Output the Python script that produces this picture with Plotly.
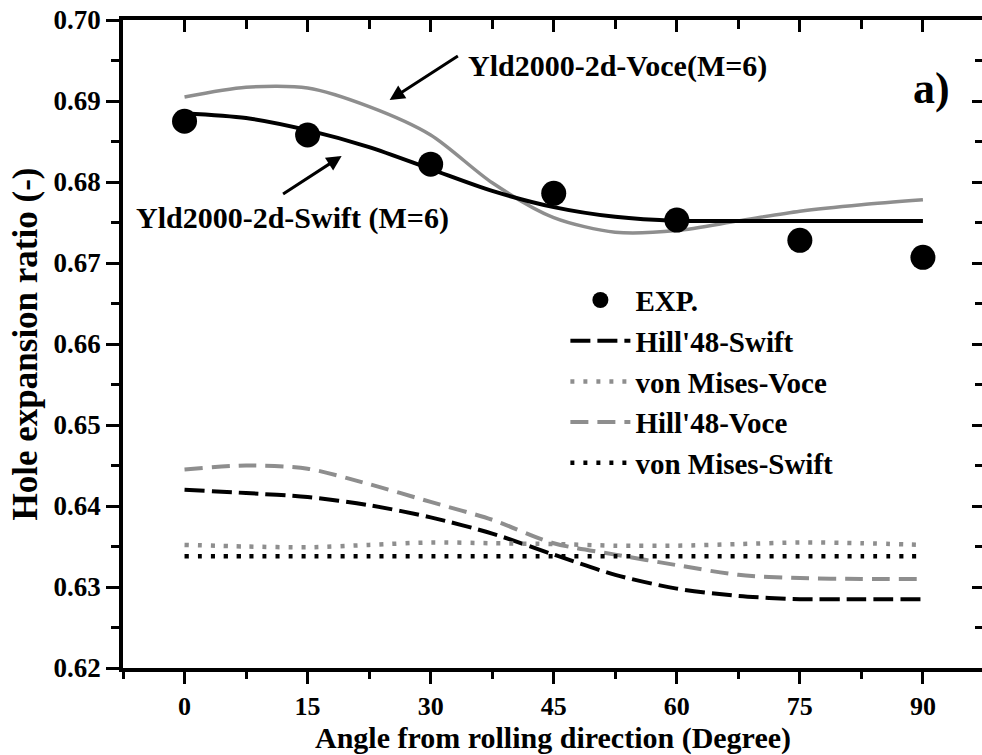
import plotly.graph_objects as go

# ---------------- data ----------------
angles_exp = [0, 15, 30, 45, 60, 75, 90]
exp_vals = [0.6875, 0.6858, 0.6822, 0.6786, 0.6753, 0.6728, 0.6707]

angles_model = [0, 7.5, 15, 22.5, 30, 37.5, 45, 52.5, 60, 67.5, 75, 82.5, 90]
yld_swift = [0.6885, 0.6879, 0.6864, 0.6843, 0.6816, 0.6789, 0.6769, 0.6757, 0.6752, 0.6752, 0.6752, 0.6752, 0.6752]
yld_voce = [0.6905, 0.6917, 0.6916, 0.6893, 0.6858, 0.6799, 0.6756, 0.6738, 0.6740, 0.6752, 0.6764, 0.6772, 0.6778]
hill_swift = [0.6420, 0.6416, 0.6411, 0.6401, 0.6386, 0.6366, 0.6340, 0.6315, 0.6298, 0.6289, 0.6285, 0.6285, 0.6285]
hill_voce = [0.6445, 0.6450, 0.6446, 0.6427, 0.6405, 0.6383, 0.6354, 0.6340, 0.6327, 0.6315, 0.6311, 0.6310, 0.6310]
vm_voce = [0.6352, 0.6350, 0.6349, 0.6352, 0.6355, 0.6354, 0.6353, 0.6351, 0.6351, 0.6353, 0.6355, 0.6354, 0.6352]
vm_swift = [0.6338, 0.6338, 0.6338, 0.6338, 0.6338, 0.6338, 0.6338, 0.6338, 0.6338, 0.6338, 0.6338, 0.6338, 0.6338]

x_ticks = [0, 15, 30, 45, 60, 75, 90]
y_ticks = [0.62, 0.63, 0.64, 0.65, 0.66, 0.67, 0.68, 0.69, 0.70]

x_title = "Angle from rolling direction (Degree)"
y_title = "Hole expansion ratio (-)"

GRAY = "#8e8e8e"
FONT = "Liberation Serif"

fig = go.Figure()

def line(y, name, color, dash, width, rank, legend=True):
    fig.add_trace(go.Scatter(
        x=angles_model, y=y, name=name, mode="lines",
        line=dict(color=color, dash=dash, width=width, shape="spline", smoothing=0.8),
        showlegend=legend, legendrank=rank, hoverinfo="skip"))

line(yld_voce, "Yld2000-2d-Voce(M=6)", GRAY, "solid", 3.5, 10, legend=False)
line(yld_swift, "Yld2000-2d-Swift (M=6)", "black", "solid", 4, 11, legend=False)
line(hill_swift, "Hill'48-Swift", "black", "20px,7px", 4, 2)
line(vm_voce, "von Mises-Voce", GRAY, "4px,9px", 4.5, 3)
line(hill_voce, "Hill'48-Voce", GRAY, "18px,9px", 4, 4)
line(vm_swift, "von Mises-Swift", "black", "4px,9px", 4.5, 5)

fig.add_trace(go.Scatter(
    x=angles_exp, y=exp_vals, name="EXP.", mode="markers",
    marker=dict(color="black", size=25, symbol="circle"),
    legendrank=1, hoverinfo="skip"))

# invisible helper trace for the mirrored (top/right) tick axes
fig.add_trace(go.Scatter(
    x=angles_exp, y=exp_vals, xaxis="x2", yaxis="y2", mode="markers",
    marker=dict(opacity=0), showlegend=False, hoverinfo="skip"))

XR = [-7.5, 97.2]
YR = [0.62, 0.70]

fig.update_layout(
    width=982, height=755,
    margin=dict(l=123, r=0, t=20, b=87),
    paper_bgcolor="white", plot_bgcolor="white",
    font=dict(family=FONT, size=27, color="black", weight="bold"),
    showlegend=True,
    legend=dict(x=0.515, y=0.607, xanchor="left", yanchor="top",
                bgcolor="rgba(0,0,0,0)", font=dict(size=29, family=FONT, weight="bold"),
                itemwidth=60, tracegroupgap=0),
    xaxis=dict(range=XR, tickvals=x_ticks, ticks="outside", ticklen=12, tickwidth=3,
               tickcolor="black", showline=True, linewidth=3.5, linecolor="black",
               showgrid=False, zeroline=False,
               minor=dict(dtick=7.5, tick0=0, ticks="outside", ticklen=7, tickwidth=3,
                          tickcolor="black", showgrid=False),
               tickfont=dict(size=26, family=FONT, weight="bold")),
    yaxis=dict(range=YR, tickvals=y_ticks, tickformat=".2f", ticks="outside", ticklen=13,
               tickwidth=3, tickcolor="black", showline=True, linewidth=3.5,
               linecolor="black", showgrid=False, zeroline=False,
               minor=dict(dtick=0.005, tick0=0.62, ticks="outside", ticklen=8, tickwidth=3,
                          tickcolor="black", showgrid=False),
               tickfont=dict(size=27, family=FONT, weight="bold"),
               title=dict(text=y_title,
                          font=dict(size=35, family=FONT, weight="bold"), standoff=6)),
    xaxis2=dict(range=XR, overlaying="x", side="top", tickvals=x_ticks, ticks="inside",
                ticklen=12, tickwidth=3, tickcolor="black", showticklabels=False,
                showline=True, linewidth=3.5, linecolor="black", showgrid=False,
                zeroline=False,
                minor=dict(dtick=7.5, tick0=0, ticks="inside", ticklen=9, tickwidth=3,
                           tickcolor="black", showgrid=False)),
    yaxis2=dict(range=YR, overlaying="y", side="right", tickvals=y_ticks, ticks="inside",
                ticklen=10, tickwidth=3, tickcolor="black", showticklabels=False,
                showline=False, showgrid=False, zeroline=False,
                minor=dict(dtick=0.005, tick0=0.62, ticks="inside", ticklen=7, tickwidth=3,
                           tickcolor="black", showgrid=False)),
)

# x-axis title placed just below the tick labels
fig.add_annotation(x=0.5, y=0, xref="paper", yref="paper", xanchor="center",
                   yanchor="top", yshift=-51, text=x_title, showarrow=False,
                   font=dict(family=FONT, size=30, color="black", weight="bold"))

ann_font = dict(family=FONT, size=30, color="black", weight="bold")
fig.add_annotation(x=52.8, y=0.69432, xref="x", yref="y", text="Yld2000-2d-Voce(M=6)",
                   showarrow=False, font=ann_font)
fig.add_annotation(x=13.1, y=0.67556, xref="x", yref="y", text="Yld2000-2d-Swift (M=6)",
                   showarrow=False, font=ann_font)
fig.add_annotation(x=25.0, y=0.69012, ax=33.5, ay=0.69568, xref="x", yref="y",
                   axref="x", ayref="y", text="", showarrow=True, arrowhead=2,
                   arrowsize=1, arrowwidth=3, arrowcolor="black")
fig.add_annotation(x=19.15, y=0.68321, ax=11.83, ay=0.67840, xref="x", yref="y",
                   axref="x", ayref="y", text="", showarrow=True, arrowhead=2,
                   arrowsize=1, arrowwidth=3, arrowcolor="black")
fig.add_annotation(x=91.1, y=0.6916, xref="x", yref="y", text="a)", showarrow=False,
                   font=dict(family=FONT, size=44, color="black", weight="bold"))

fig.write_html("out.html")
